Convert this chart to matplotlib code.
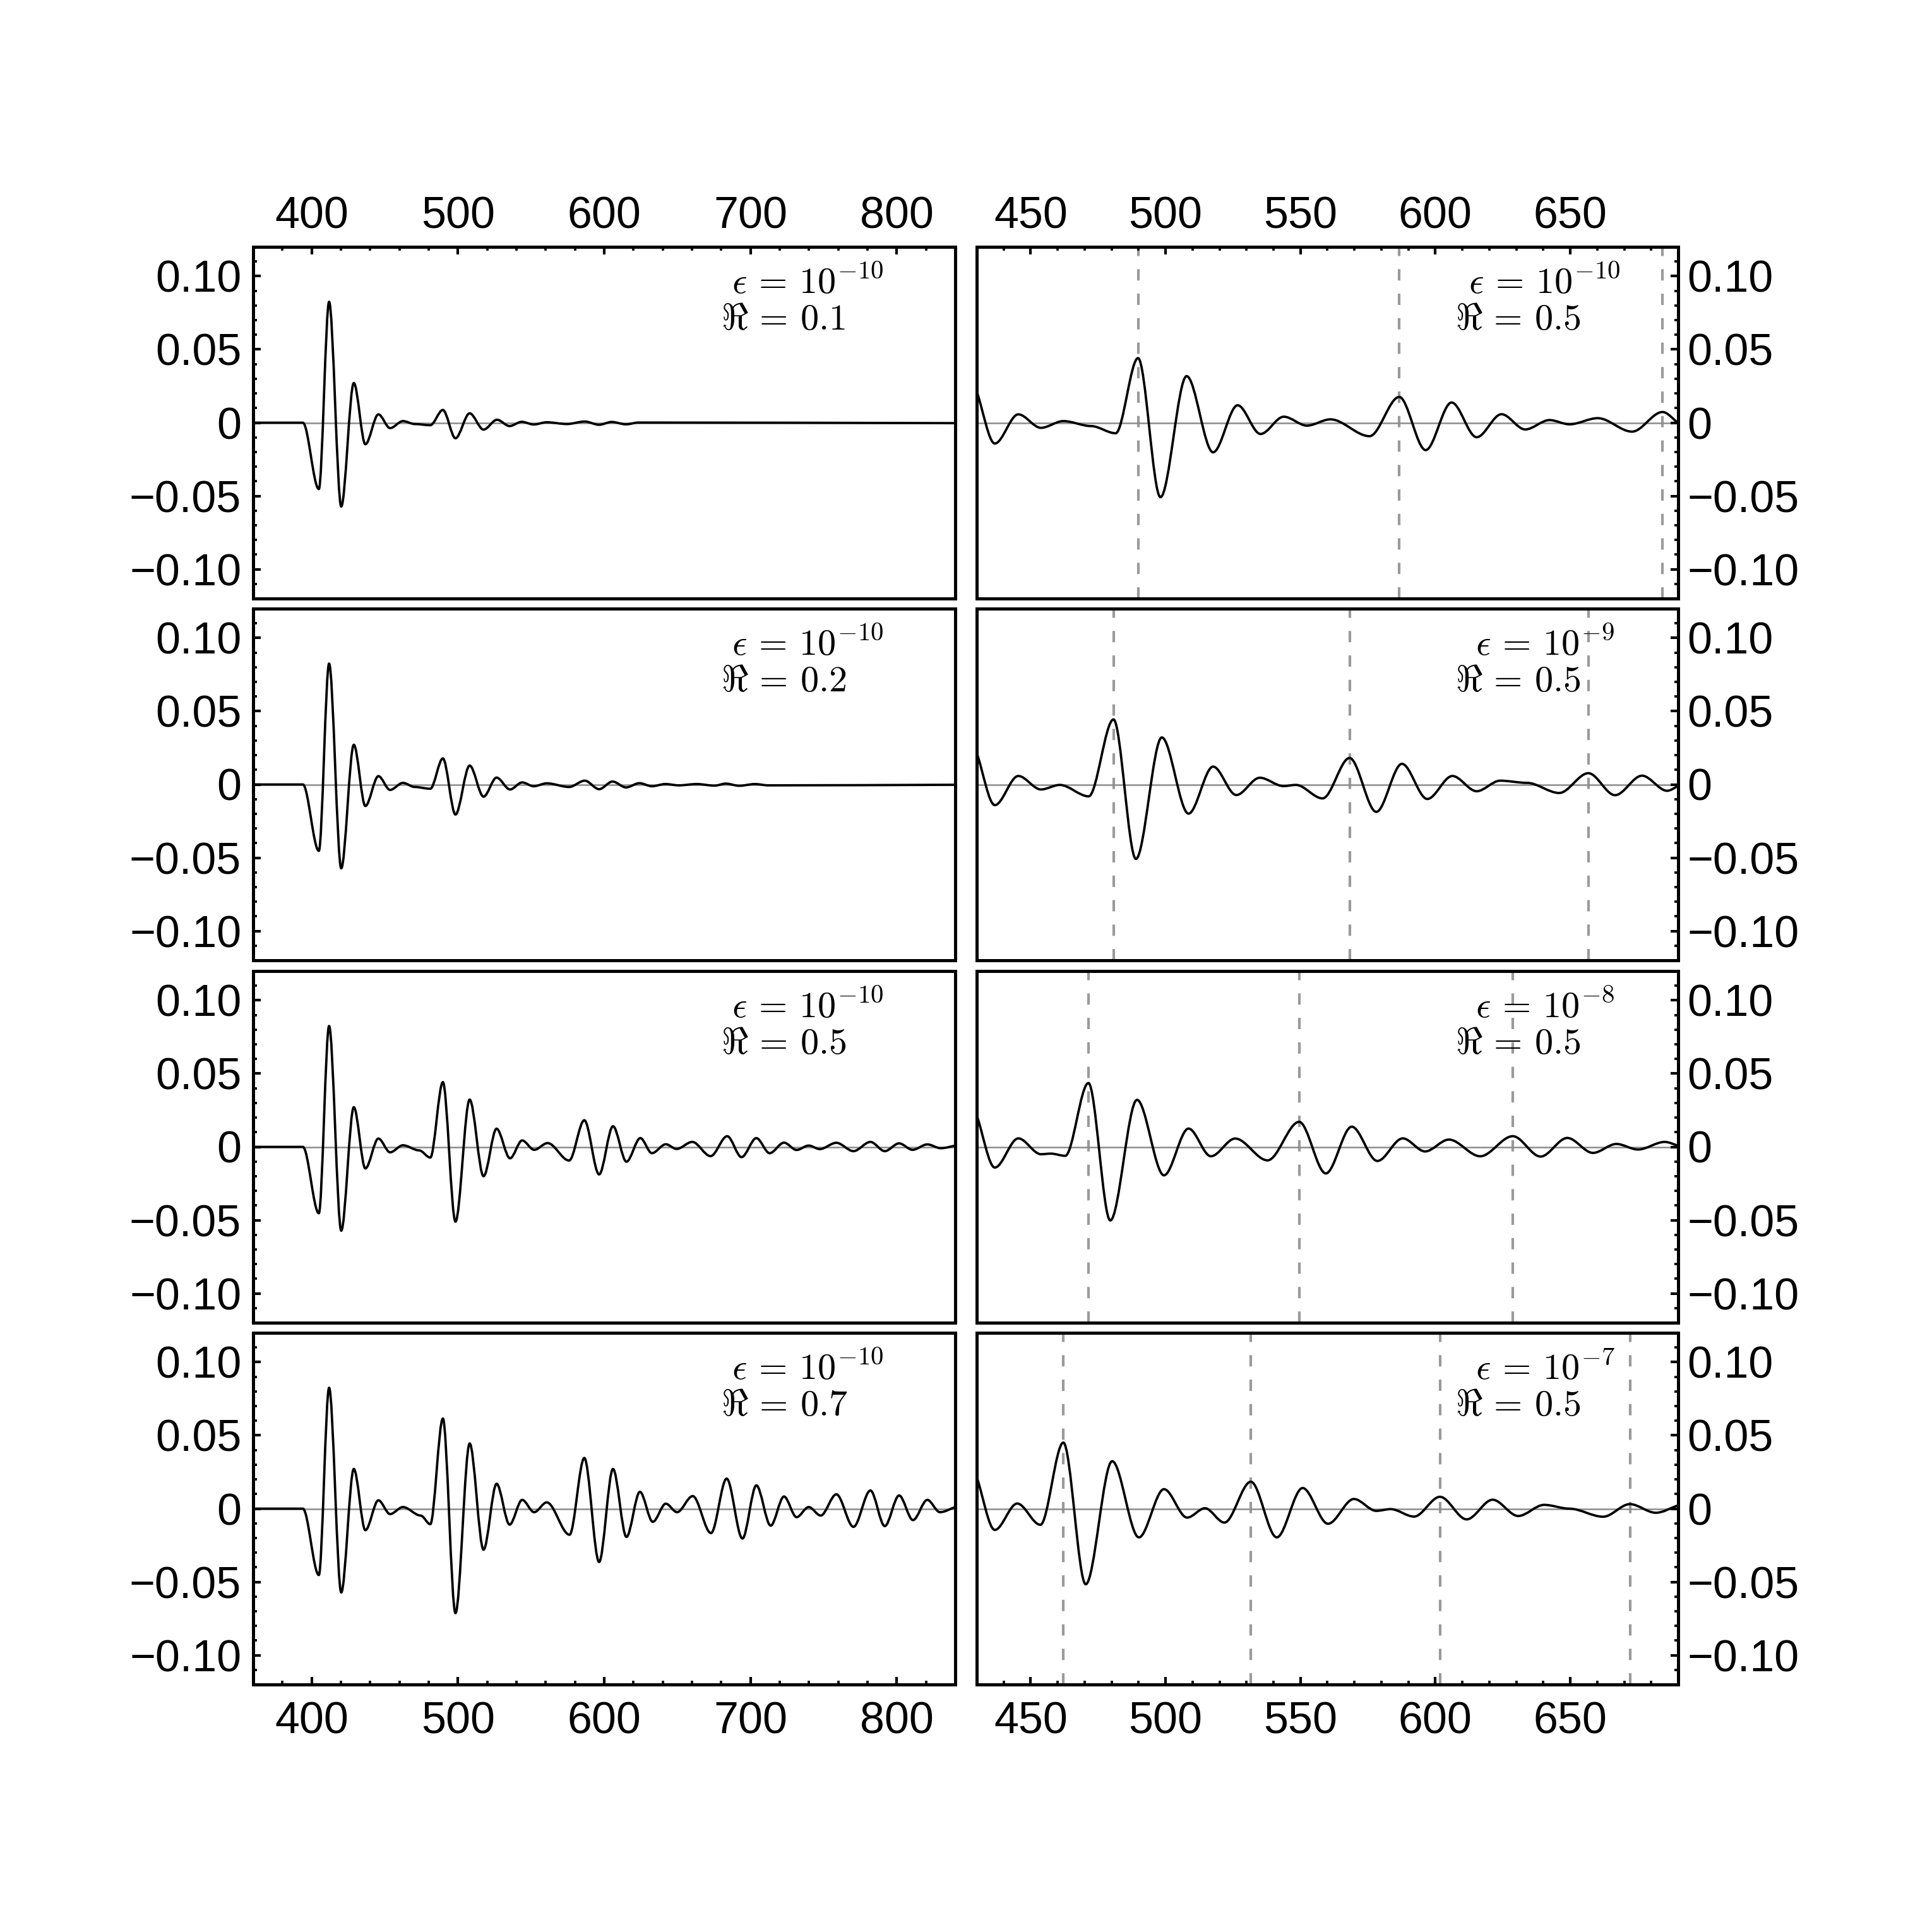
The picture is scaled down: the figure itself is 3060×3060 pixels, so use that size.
import matplotlib
matplotlib.use("Agg")
import matplotlib.pyplot as plt
from matplotlib.path import Path
from matplotlib.patches import PathPatch
from matplotlib.ticker import MultipleLocator

plt.rcParams['font.family'] = ['Liberation Sans', 'DejaVu Sans']
plt.rcParams['mathtext.fontset'] = 'cm'

# ---------------- data (extrema of the waveforms) -------------
# common onset of all left-column traces
onset = [(360.0, 0.0), (394.0, 0.0), (404.9, -0.0453), (411.9, 0.0825), (420.2, -0.0572),
         (428.8, 0.0271), (436.7, -0.0147), (445.6, 0.0057), (453.6, -0.0037), (462.4, 0.0011)]

L1_tail = [(470.4, -0.0009), (481.1, -0.0017), (489.7, 0.0087), (498.3, -0.0106), (508.0, 0.0064),
           (517.5, -0.0047), (526.7, 0.0020), (535.3, -0.0023), (543.6, 0.0006), (551.8, -0.0012),
           (560.7, 0.0003), (574.5, -0.0009), (586.7, 0.0008), (596.5, -0.0014), (605.1, 0.0005),
           (614.9, -0.0011), (623.4, 0.0001), (840.0, -0.0003)]

L2_tail = [(470.4, -0.0017), (481.1, -0.0029), (489.7, 0.0178), (498.3, -0.0205), (508.0, 0.0129),
           (517.5, -0.0083), (526.4, 0.0047), (535.6, -0.0034), (543.9, 0.0014), (551.8, -0.0012),
           (560.7, 0.0008), (576.0, -0.0017), (586.7, 0.0026), (596.5, -0.0032), (605.7, 0.0020),
           (614.9, -0.0020), (624.1, 0.0009), (632.6, -0.0012), (641.8, 0.0003), (651.0, -0.0006),
           (663.2, 0.0003), (675.5, -0.0008), (683.1, 0.0006), (692.3, -0.0009), (703.0, 0.0003),
           (712.2, -0.0006), (840.0, -0.0002)]

L3_tail = [(473.5, -0.0024), (481.1, -0.0073), (489.7, 0.0442), (498.3, -0.0510), (508.0, 0.0323),
           (517.5, -0.0200), (526.4, 0.0124), (535.6, -0.0078), (543.9, 0.0044), (552.1, -0.0020),
           (561.3, 0.0026), (576.0, -0.0093), (586.4, 0.0182), (596.5, -0.0188), (606.0, 0.0141),
           (615.2, -0.0101), (624.7, 0.0060), (632.6, -0.0043), (642.1, 0.0018), (649.5, -0.0014),
           (660.2, 0.0034), (672.7, -0.0063), (684.1, 0.0073), (693.9, -0.0070), (704.0, 0.0060),
           (713.1, -0.0043), (722.9, 0.0029), (731.5, -0.0021), (739.8, 0.0009), (747.4, -0.0015),
           (758.7, 0.0028), (770.4, -0.0029), (782.0, 0.0034), (791.8, -0.0029), (801.6, 0.0024),
           (810.8, -0.0020), (820.9, 0.0017), (830.1, -0.0009), (840.2, 0.0009)]

L4_tail = [(474.5, -0.0047), (481.1, -0.0106), (489.7, 0.0615), (498.3, -0.0713), (508.0, 0.0445),
           (517.5, -0.0280), (526.4, 0.0170), (535.3, -0.0109), (543.9, 0.0060), (552.1, -0.0024),
           (560.7, 0.0043), (576.3, -0.0178), (586.4, 0.0346), (596.5, -0.0364), (606.0, 0.0271),
           (615.2, -0.0193), (624.4, 0.0115), (633.2, -0.0090), (642.1, 0.0034), (649.8, -0.0024),
           (660.5, 0.0086), (673.0, -0.0167), (683.7, 0.0205), (694.5, -0.0204), (704.0, 0.0159),
           (713.8, -0.0116), (722.9, 0.0083), (731.5, -0.0058), (739.8, 0.0011), (748.0, -0.0047),
           (758.7, 0.0098), (770.4, -0.0124), (782.0, 0.0124), (791.8, -0.0119), (801.6, 0.0090),
           (811.1, -0.0078), (820.9, 0.0060), (829.5, -0.0024), (840.2, 0.0012)]

R1 = [(430.1, 0.0207), (436.7, -0.0142), (445.4, 0.0057), (453.8, -0.0035), (462.1, 0.0011),
      (472.4, -0.0023), (481.5, -0.0072), (489.8, 0.0441), (498.1, -0.0508), (507.8, 0.0318),
      (517.6, -0.0202), (526.7, 0.0119), (535.2, -0.0077), (543.8, 0.0041), (552.4, -0.0020),
      (561.1, 0.0023), (575.6, -0.0092), (586.6, 0.0176), (596.4, -0.0187), (606.0, 0.0138),
      (615.3, -0.0099), (624.5, 0.0058), (633.3, -0.0046), (642.3, 0.0018), (649.7, -0.0011),
      (660.2, 0.0031), (672.9, -0.0061), (684.2, 0.0073), (690.0, -0.0002)]

R2 = [(430.1, 0.0210), (436.7, -0.0141), (445.4, 0.0058), (453.8, -0.0034), (460.8, -0.0003),
      (471.5, -0.0081), (480.7, 0.0444), (489.0, -0.0508), (498.6, 0.0321), (508.5, -0.0199),
      (517.6, 0.0122), (526.2, -0.0072), (534.9, 0.0046), (543.7, -0.0011), (548.3, -0.0003),
      (558.2, -0.0095), (568.2, 0.0181), (578.1, -0.0187), (587.6, 0.0141), (597.0, -0.0099),
      (606.3, 0.0058), (615.3, -0.0046), (624.0, 0.0026), (634.0, 0.0011), (645.9, -0.0058),
      (656.7, 0.0077), (666.6, -0.0073), (676.6, 0.0060), (685.9, -0.0043), (690.0, -0.0011)]

R3 = [(430.1, 0.0210), (436.7, -0.0141), (445.4, 0.0058), (453.8, -0.0050), (457.5, -0.0046),
      (462.8, -0.0061), (471.4, 0.0436), (479.5, -0.0502), (489.4, 0.0321), (499.4, -0.0194),
      (508.5, 0.0125), (516.8, -0.0064), (525.8, 0.0057), (537.8, -0.0092), (549.5, 0.0171),
      (559.4, -0.0181), (569.0, 0.0138), (578.5, -0.0096), (587.9, 0.0058), (596.2, -0.0031),
      (605.0, 0.0050), (616.6, -0.0064), (628.7, 0.0073), (639.0, -0.0066), (648.9, 0.0061),
      (658.4, -0.0041), (667.1, 0.0020), (675.1, -0.0018), (685.0, 0.0034), (690.0, 0.0008)]

R4 = [(430.1, 0.0210), (436.7, -0.0145), (445.0, 0.0035), (453.6, -0.0110), (462.1, 0.0451),
      (470.4, -0.0516), (480.2, 0.0324), (490.1, -0.0196), (499.4, 0.0133), (508.0, -0.0061),
      (514.6, 0.0003), (521.8, -0.0095), (531.6, 0.0184), (541.2, -0.0196), (550.8, 0.0141),
      (560.2, -0.0103), (569.8, 0.0066), (578.1, -0.0015), (583.4, -0.0003), (592.1, -0.0054),
      (601.7, 0.0081), (611.6, -0.0073), (621.2, 0.0061), (630.7, -0.0050), (640.3, 0.0026),
      (649.7, 0.0000), (662.2, -0.0055), (672.1, 0.0031), (681.7, -0.0028), (690.0, 0.0023)]

left_series = [onset + L1_tail, onset + L2_tail, onset + L3_tail, onset + L4_tail]
right_series = [R1, R2, R3, R4]

right_dashes = [[489.8, 586.6, 684.2],
                [480.7, 568.2, 656.7],
                [471.4, 549.5, 628.7],
                [462.1, 531.6, 601.7, 672.1]]

left_eps = ["-10", "-10", "-10", "-10"]
left_R = ["0.1", "0.2", "0.5", "0.7"]
right_eps = ["-10", "-9", "-8", "-7"]
right_R = ["0.5", "0.5", "0.5", "0.5"]

left_xticks = [400, 500, 600, 700, 800]
right_xticks = [450, 500, 550, 600, 650]
yticks = [-0.10, -0.05, 0.0, 0.05, 0.10]
ytick_labels = ["\u22120.10", "\u22120.05", "0", "0.05", "0.10"]


def smooth_path(pts):
    """Cubic Bezier path with horizontal tangents at the listed extrema."""
    verts = [pts[0]]
    codes = [Path.MOVETO]
    n = len(pts)
    for i in range(n - 1):
        (x0, y0), (x1, y1) = pts[i], pts[i + 1]
        dx = x1 - x0
        c1 = (x0 + dx / 3, y0 + ((y1 - y0) / 3 if i == 0 else 0.0))
        c2 = (x1 - dx / 3, y1 - ((y1 - y0) / 3 if i == n - 2 else 0.0))
        verts += [c1, c2, (x1, y1)]
        codes += [Path.CURVE4] * 3
    return Path(verts, codes)


fig = plt.figure(figsize=(10.2, 10.2), dpi=300)
col_x = [401 / 3060, 1547 / 3060]
col_w = [1112 / 3060, 1111 / 3060]
row_top = [391, 964, 1538, 2111]
row_h = 557 / 3060

for r in range(4):
    for c in range(2):
        bottom = 1 - (row_top[r] + 557) / 3060
        ax = fig.add_axes([col_x[c], bottom, col_w[c], row_h])
        if c == 0:
            pts = left_series[r]
            ax.set_xlim(360, 840)
            ax.set_xticks(left_xticks)
            ax.xaxis.set_minor_locator(MultipleLocator(20))
        else:
            pts = right_series[r]
            ax.set_xlim(430, 690)
            ax.set_xticks(right_xticks)
            ax.xaxis.set_minor_locator(MultipleLocator(10))
            for xv in right_dashes[r]:
                ax.axvline(xv, color='#9a9a9a', lw=1.0, dashes=(4.3, 5.0), zorder=1)
        ax.set_ylim(-0.12, 0.12)
        ax.set_yticks(yticks)
        ax.set_yticklabels(ytick_labels)
        ax.yaxis.set_minor_locator(MultipleLocator(0.01))

        ax.axhline(0, color='#8c8c8c', lw=0.6, zorder=1)
        ax.add_patch(PathPatch(smooth_path(pts), facecolor='none', edgecolor='black',
                               lw=0.9, zorder=3, capstyle='round', joinstyle='round'))

        for s in ax.spines.values():
            s.set_linewidth(1.2)
        ax.tick_params(which='both', direction='in', labelsize=16.8, color='black')
        ax.tick_params(which='major', length=2.8, width=1.0)
        ax.tick_params(which='minor', length=1.4, width=0.9)
        if r == 0:
            ax.tick_params(axis='x', which='both', top=True, labeltop=True,
                           bottom=False, labelbottom=False, pad=3.6)
        elif r == 3:
            ax.tick_params(axis='x', which='both', top=False, labeltop=False,
                           bottom=True, labelbottom=True, pad=6.3)
        else:
            ax.tick_params(axis='x', which='both', top=False, labeltop=False,
                           bottom=False, labelbottom=False)
        if c == 0:
            ax.tick_params(axis='y', which='both', left=True, labelleft=True,
                           right=False, labelright=False, pad=4.5)
        else:
            ax.tick_params(axis='y', which='both', left=False, labelleft=False,
                           right=True, labelright=True, pad=3.4)

        if c == 0:
            ex, rx = 0.682, 0.666
            eps, Rv = left_eps[r], left_R[r]
        else:
            ex = 0.7015 if r == 0 else 0.711
            rx = 0.682
            eps, Rv = right_eps[r], right_R[r]
        ax.text(ex, 0.868, r"$\epsilon\,=\,10^{%s}$" % eps, transform=ax.transAxes,
                ha='left', va='baseline', fontsize=14)
        ax.text(rx, 0.764, r"$\Re\,=\,%s$" % Rv, transform=ax.transAxes,
                ha='left', va='baseline', fontsize=14)

fig.savefig("out.png", dpi=300)
